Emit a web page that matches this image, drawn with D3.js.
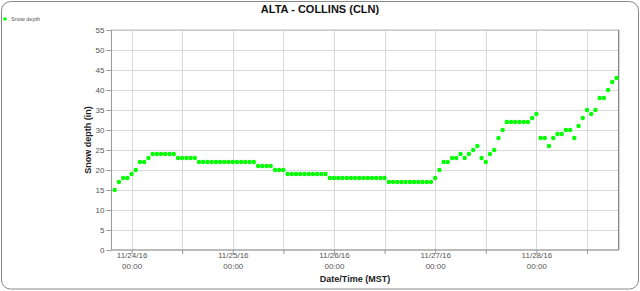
<!DOCTYPE html>
<html>
<head>
<meta charset="utf-8">
<script src="https://cdn.jsdelivr.net/npm/d3@7"></script>
<style>
  html, body { margin: 0; padding: 0; background: #fff; }
  svg { display: block; font-family: "Liberation Sans", Arial, sans-serif; }
</style>
</head>
<body>
<svg id="chart" width="640" height="291"></svg>
<script>
// ---- Data ----
const title = "ALTA - COLLINS (CLN)";
const seriesName = "Snow depth";
const yLabel = "Snow depth (in)";
const xLabel = "Date/Time (MST)";
const startTime = [2016, 10, 23, 20]; // 11/23/16 20:00, hourly observations
const snowDepth = [
  15, 17, 18, 18, 19, 20, 22, 22, 23,
  24, 24, 24, 24, 24, 24,
  23, 23, 23, 23, 23,
  22, 22, 22, 22, 22, 22, 22, 22, 22, 22, 22, 22, 22, 22,
  21, 21, 21, 21,
  20, 20, 20,
  19, 19, 19, 19, 19, 19, 19, 19, 19, 19,
  18, 18, 18, 18, 18, 18, 18, 18, 18, 18, 18, 18, 18, 18,
  17, 17, 17, 17, 17, 17, 17, 17, 17, 17, 17,
  18, 20, 22, 22, 23, 23, 24, 23, 24, 25, 26, 23, 22, 24, 25, 28, 30,
  32, 32, 32, 32, 32, 32, 33, 34,
  28, 28, 26, 28, 29, 29, 30, 30, 28, 31, 33, 35, 34, 35, 38, 38, 40, 42, 43
];
const yTicks = [0, 5, 10, 15, 20, 25, 30, 35, 40, 45, 50, 55];

// ---- Build ----
const t0 = new Date(startTime[0], startTime[1], startTime[2], startTime[3]);
const data = snowDepth.map((v, i) => ({ t: d3.timeHour.offset(t0, i), v }));

const svg = d3.select("#chart");
const W = 640, H = 291;
const plot = { left: 111.5, right: 618.7, top: 30, bottom: 250 };

// outer frame
svg.append("rect")
  .attr("x", 1.5).attr("y", 1.5)
  .attr("width", W - 3).attr("height", H - 3.5)
  .attr("rx", 9).attr("ry", 9)
  .attr("fill", "#fff").attr("stroke", "#888").attr("stroke-width", 1);

const x = d3.scaleTime()
  .domain([new Date(+t0 - 0.76 * 3600e3), new Date(+data[data.length - 1].t + 0.52 * 3600e3)])
  .range([plot.left, plot.right]);
const y = d3.scaleLinear().domain([0, 55]).range([plot.bottom, plot.top]);

const xTicks = d3.timeHour.every(12).range(x.domain()[0], x.domain()[1]);

// grid
const grid = svg.append("g");
grid.selectAll("line.h").data(yTicks.filter(d => d > 0)).join("line")
  .attr("x1", plot.left).attr("x2", plot.right)
  .attr("y1", d => Math.round(y(d)) + 0.5).attr("y2", d => Math.round(y(d)) + 0.5)
  .attr("stroke", "#d9d9d9").attr("stroke-width", 1);
grid.selectAll("line.v").data(xTicks).join("line")
  .attr("x1", d => Math.round(x(d)) + 0.5).attr("x2", d => Math.round(x(d)) + 0.5)
  .attr("y1", plot.top).attr("y2", plot.bottom)
  .attr("stroke", "#d9d9d9").attr("stroke-width", 1);

// plot frame
svg.append("rect")
  .attr("x", plot.left).attr("y", plot.top)
  .attr("width", plot.right - plot.left).attr("height", plot.bottom - plot.top)
  .attr("fill", "none").attr("stroke", "#bbb");
svg.append("line")
  .attr("x1", plot.left).attr("x2", plot.left).attr("y1", plot.top).attr("y2", plot.bottom)
  .attr("stroke", "#999");
svg.append("line")
  .attr("x1", plot.right).attr("x2", plot.right).attr("y1", plot.top).attr("y2", plot.bottom)
  .attr("stroke", "#777");
svg.append("line")
  .attr("x1", plot.left).attr("x2", plot.right).attr("y1", plot.bottom).attr("y2", plot.bottom)
  .attr("stroke", "#999");

// y axis
const yAxis = d3.axisLeft(y).tickValues(yTicks).tickSize(5).tickPadding(2);
const gy = svg.append("g").attr("transform", `translate(${plot.left},0)`).call(yAxis);
gy.select(".domain").remove();
gy.selectAll(".tick line").attr("stroke", "#999");
gy.selectAll(".tick text").attr("fill", "#555").style("font-size", "8px")
  .style("font-family", "'Liberation Sans', Arial, sans-serif");

// x axis
const fmtDate = d3.timeFormat("%m/%d/%y");
const fmtTime = d3.timeFormat("%H:%M");
const xAxis = d3.axisBottom(x).tickValues(xTicks).tickSize(4).tickFormat("");
const gx = svg.append("g").attr("transform", `translate(0,${plot.bottom})`).call(xAxis);
gx.select(".domain").remove();
gx.selectAll(".tick line").attr("stroke", "#999");
gx.selectAll(".tick").each(function(d) {
  if (d.getHours() !== 0) return;
  const g = d3.select(this);
  const t = g.append("text").attr("fill", "#555").attr("text-anchor", "middle")
    .style("font-size", "8px").style("font-family", "'Liberation Sans', Arial, sans-serif");
  t.append("tspan").attr("x", 0).attr("y", 8).text(fmtDate(d));
  t.append("tspan").attr("x", 0).attr("y", 19).text(fmtTime(d));
});

// points
svg.append("g").selectAll("circle").data(data).join("circle")
  .attr("cx", d => x(d.t)).attr("cy", d => y(d.v))
  .attr("r", 2.2).attr("fill", "#00ff00");

// title
svg.append("text").attr("x", 320).attr("y", 13).attr("text-anchor", "middle")
  .style("font-size", "11px").style("font-weight", "bold").attr("fill", "#111")
  .text(title);

// legend
svg.append("circle").attr("cx", 5).attr("cy", 19).attr("r", 1.8).attr("fill", "#00ff00");
svg.append("text").attr("x", 11).attr("y", 21).style("font-size", "5.5px").attr("fill", "#555")
  .text(seriesName);

// axis labels
svg.append("text").attr("transform", `translate(91,${(plot.top + plot.bottom) / 2}) rotate(-90)`)
  .attr("text-anchor", "middle").style("font-size", "9px").style("font-weight", "bold")
  .attr("fill", "#222").text(yLabel);
svg.append("text").attr("x", 355).attr("y", 282).attr("text-anchor", "middle")
  .style("font-size", "9px").style("font-weight", "bold").attr("fill", "#222").text(xLabel);
</script>
</body>
</html>
